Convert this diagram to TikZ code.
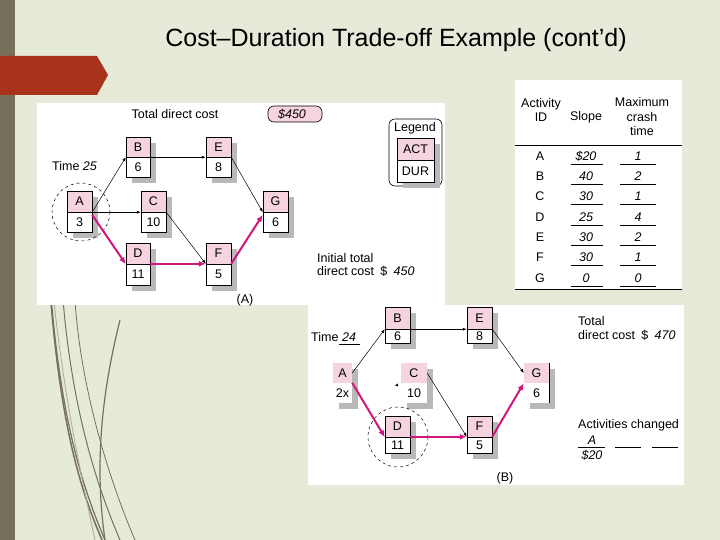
\documentclass[tikz,border=0pt]{standalone}
\usepackage{fontspec}
\setmainfont{Liberation Sans}
\usetikzlibrary{arrows.meta}
\definecolor{bg}{HTML}{E5EBD8}
\definecolor{olive}{HTML}{77705A}
\definecolor{banner}{HTML}{A8321A}
\definecolor{pinkc}{HTML}{F6D3E0}
\definecolor{mag}{HTML}{D0177E}
\tikzset{
 thin arr/.style={-{Latex[length=4pt,width=3pt]},line width=0.5pt},
 crit/.style={-{Latex[length=7pt,width=6pt]},line width=2pt,mag},
 lbl/.style={inner sep=0pt,font=\fontsize{12.5}{14.5}\selectfont},
 ital/.style={lbl,font=\fontsize{12.5}{14.5}\selectfont\itshape},
 cell/.style={inner sep=0pt,font=\fontsize{12.5}{14.5}\selectfont},
}
\newcommand\actbox[8]{%
 \fill[gray!55] (#2+6,#3+6) rectangle (#4+6,#6+6);
 \fill[white] (#2,#3) rectangle (#4,#6);
 \fill[pinkc] (#2,#3) rectangle (#4,#5);
 \draw[line width=0.6pt] (#2,#3) rectangle (#4,#6) (#2,#5) -- (#4,#5);
 \node[cell,minimum width=#4-#2,minimum height=#5-#3] (#1t) at ({(#2+#4)/2},{(#3+#5)/2}) {#7};
 \node[cell,minimum width=#4-#2,minimum height=#6-#5] (#1b) at ({(#2+#4)/2},{(#5+#6)/2}) {#8};
}
\newcommand\plainbox[8]{%
 \fill[gray!55] (#2+6,#3+6) rectangle (#4+6,#6+6);
 \fill[white] (#2,#3) rectangle (#4,#6);
 \fill[pinkc] (#2,#3) rectangle (#4,#5);
 \node[cell,minimum width=#4-#2,minimum height=#5-#3] (#1t) at ({(#2+#4)/2},{(#3+#5)/2}) {#7};
 \node[cell,minimum width=#4-#2,minimum height=#6-#5] (#1b) at ({(#2+#4)/2},{(#5+#6)/2}) {#8};
}
\begin{document}
\begin{tikzpicture}[x=1pt,y=-1pt]
\fill[bg] (0,0) rectangle (720,540);
\useasboundingbox (0,0) rectangle (720,540);
\fill[olive] (0,0) rectangle (15,540);
\foreach \a/\b/\w in {42/110/1.5, 45/180/1.2, 60/250/1.0, 75/300/0.8}{
 \draw[olive,line width=\w pt] (\a,\b) .. controls (\a+5,380) and (\a+30,470) .. (\a+60,540);
}
\draw[olive!60,line width=0.8pt] (50,260) .. controls (60,380) and (80,470) .. (95,540);
\draw[olive,line width=1.2pt] (120,320) .. controls (100,400) and (95,470) .. (105,540);
\fill[banner] (0,56) -- (97,56) -- (108,75) -- (97,95) -- (0,95) -- cycle;
\node[inner sep=0pt,font=\fontsize{25}{28}\selectfont] (title) at (396,40) {Cost–Duration Trade-off Example (cont’d)};
\fill[white] (37,103) rectangle (445,305);
\fill[white] (308,305) rectangle (684,485);
\fill[white] (515,80) rectangle (682,290);
% ---------- Panel A
\node[lbl] (tdc) at (175,114) {Total direct cost};
\draw[fill=pinkc,rounded corners=6pt,line width=0.6pt] (268,106) rectangle (322,122);
\node[ital] (cost) at (292,114) {\$450};
\draw[rounded corners=6pt,line width=0.6pt] (389,119) rectangle (442,186);
\node[lbl] (leg) at (415,128) {Legend};
\actbox{L}{397}{138}{434}{160}{182}{ACT}{DUR}
\node[lbl,anchor=west] (time) at (52,166) {Time \textit{25}};
\actbox{A}{67}{191}{92}{212}{232}{A}{3}
\actbox{B}{126}{137}{150}{157}{177}{B}{6}
\actbox{E}{206}{137}{231}{157}{177}{E}{8}
\actbox{C}{141}{191}{166}{212}{232}{C}{10}
\actbox{G}{263}{191}{288}{212}{232}{G}{6}
\actbox{D}{126}{243}{150}{264}{285}{D}{11}
\actbox{F}{206}{243}{231}{264}{285}{F}{5}
\draw[dashed,line width=0.5pt] (81,212) circle (29);
\draw[thin arr] (At.south east) -- (Bt.south west);
\draw[thin arr] (At.south east) -- (Ct.south west);
\draw[thin arr] (Bt.south east) -- (Et.south west);
\draw[thin arr] (Et.south east) -- (Gt.south west);
\draw[thin arr] (Ct.south east) -- (Fb.north west);
\draw[crit] ([yshift=-3pt]Ab.north east) -- (Dt.south west);
\draw[crit] (Db.north east) -- (Fb.north west);
\draw[crit] (Fb.north east) -- ([yshift=-3pt]Gb.north west);
\node[lbl,anchor=west] (init1) at (317,258) {Initial total};
\node[lbl,anchor=west] (init2) at (317,271) {direct cost\enspace\$\enspace\textit{450}};
\node[lbl] (capA) at (245,300) {(A)};
% ---------- Panel B
\node[lbl,anchor=west] (timeb) at (311,337) {Time};
\node[ital] (t24) at (349,337) {24};
\draw[line width=0.5pt] (339,344) -- (360,344);
\plainbox{a}{333}{363}{352}{383}{403}{A}{2x}
\actbox{b}{385}{307}{410}{329}{343}{B}{6}
\actbox{e}{467}{307}{492}{329}{343}{E}{8}
\plainbox{c}{401}{363}{427}{383}{403}{C}{10}
\plainbox{g}{524}{363}{549}{383}{403}{G}{6}
\draw[line width=0.6pt] (549,363) -- (549,403);
\actbox{d}{385}{416}{410}{437}{453}{D}{11}
\actbox{f}{467}{416}{492}{437}{453}{F}{5}
\draw[dashed,line width=0.5pt] (398,437) circle (30);
\draw[thin arr] (at.east) -- (bt.south west);
\draw[thin arr] (bt.south east) -- (et.south west);
\draw[thin arr] (et.south east) -- (gt.west);
\draw[thin arr] (ct.east) -- (fb.north west);
\coordinate (cs) at (398,385);
\draw[-{Latex[length=3pt,width=3pt]},line width=0.4pt] (cs) -- ++(-3,0.5);
\draw[crit] (ab.north east) -- (dt.south west);
\draw[crit] (db.north east) -- (fb.north west);
\draw[crit] (fb.north east) -- (gt.south west);
\node[lbl,anchor=west] (tot1) at (578,321) {Total};
\node[lbl,anchor=west] (tot2) at (578,335) {direct cost\enspace\$\enspace\textit{470}};
\node[lbl,anchor=west] (act) at (578,425) {Activities changed};
\node[ital] (chA) at (592,440) {A};
\node[ital] (ch20) at (592,455) {\$20};
\draw[line width=0.5pt] (578,447) -- (605,447) (615,447) -- (641,447) (652,447) -- (678,447);
\node[lbl] (capB) at (505,478) {(B)};
% ---------- Table
\node[lbl,align=center] (h1) at (541,110) {Activity\\ID};
\node[lbl] (h2) at (586,117) {Slope};
\node[lbl,align=center] (h3) at (642,117) {Maximum\\crash\\time};
\draw[line width=0.6pt] (515,145) -- (682,145);
\foreach \l/\s/\m [count=\i] in {A/\$20/1,B/40/2,C/30/1,D/25/4,E/30/2,F/30/1,G/0/0}{
 \pgfmathsetmacro\yy{156+20.3*(\i-1)}
 \node[lbl] (r\i) at (540,\yy) {\l};
 \node[ital] (s\i) at (586,\yy) {\s};
 \node[ital] (m\i) at (638,\yy) {\m};
 \draw[line width=0.5pt] (571,\yy+8) -- (603,\yy+8) (620,\yy+8) -- (656,\yy+8);
}
\draw[line width=0.6pt] (515,289) -- (682,289);
\end{tikzpicture}
\end{document}
